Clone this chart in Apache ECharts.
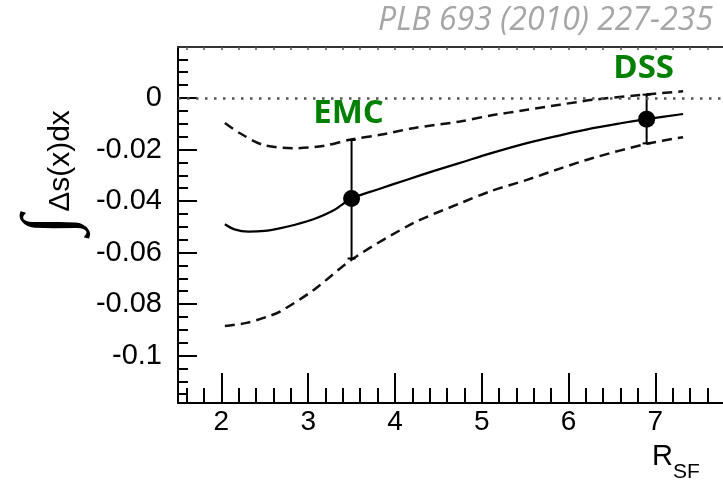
<!DOCTYPE html>
<html>
<head>
<meta charset="utf-8">
<script src="https://cdn.jsdelivr.net/npm/echarts@6/dist/echarts.min.js"></script>
<style>
  html, body { margin: 0; padding: 0; background: #ffffff; }
  #chart { width: 723px; height: 483px; }
</style>
</head>
<body>
<div id="chart"></div>
<script>
// Central curve of the integrated strange-quark helicity vs. R_SF
const rCentral = [2.04, 2.15, 2.31, 2.5, 2.67, 2.85, 3.06, 3.3, 3.5, 3.8, 4.13, 4.45, 4.75, 5.1, 5.52, 5.9, 6.28, 6.6, 6.9, 7.32];
const sCentral = [-0.049, -0.051, -0.0519, -0.0516, -0.0506, -0.0492, -0.0471, -0.0435, -0.039, -0.0355, -0.0318, -0.0283, -0.0252, -0.0215, -0.0175, -0.0145, -0.0117, -0.0098, -0.0082, -0.0062];

// Upper edge of the uncertainty band
const rUpper = [2.04, 2.21, 2.48, 2.83, 3.17, 3.51, 3.83, 4.21, 4.75, 5.1, 5.52, 5.9, 6.28, 6.74, 7.32];
const sUpper = [-0.0097, -0.0136, -0.0182, -0.0195, -0.0186, -0.016, -0.0143, -0.0117, -0.0091, -0.0068, -0.0046, -0.0026, -0.0007, 0.0009, 0.0026];

// Lower edge of the uncertainty band
const rLower = [2.04, 2.29, 2.52, 2.67, 3.06, 3.52, 4.21, 4.75, 5.1, 5.52, 5.9, 6.28, 6.9, 7.32];
const sLower = [-0.0885, -0.0873, -0.085, -0.083, -0.0746, -0.0623, -0.0486, -0.0409, -0.0362, -0.0318, -0.0274, -0.0233, -0.0178, -0.0152];

// Extracted values with their error ranges
const pointNames = ['EMC', 'DSS'];
const pointR = [3.5, 6.9];
const pointS = [-0.039, -0.0082];
const pointLow = [-0.0623, -0.0176];
const pointHigh = [-0.0163, 0.0013];

// Axis ticks
const xTickLabels = [2, 3, 4, 5, 6, 7];
const yTickLabels = [-0.1, -0.08, -0.06, -0.04, -0.02, 0];
const X_MIN = 1.5, X_MAX = 7.78;
const Y_MIN = -0.1184, Y_MAX = 0.0198;

const xMinorTicks = [];
for (let k = 8; k <= 38; k++) xMinorTicks.push(+(k * 0.2).toFixed(2));
const yMinorTicks = [];
for (let k = -23; k <= 3; k++) yMinorTicks.push(+(k * 0.005).toFixed(3));

const FONT = 'Liberation Sans';
const chart = echarts.init(document.getElementById('chart'), null, { renderer: 'canvas' });

const baseX = { type: 'value', min: X_MIN, max: X_MAX, splitLine: { show: false } };
const baseY = { type: 'value', min: Y_MIN, max: Y_MAX, splitLine: { show: false } };

chart.setOption({
  animation: false,
  backgroundColor: '#ffffff',
  grid: { left: 178, top: 47, right: 0, bottom: 80, containLabel: false },
  xAxis: [
    Object.assign({}, baseX, {
      position: 'bottom',
      axisLine: { show: true, onZero: false, lineStyle: { color: '#000', width: 2 } },
      axisTick: { show: true, inside: true, length: 30, customValues: xTickLabels, lineStyle: { color: '#000', width: 2 } },
      axisLabel: { show: true, customValues: xTickLabels, fontSize: 28, fontFamily: FONT, color: '#000', margin: 5 }
    }),
    Object.assign({}, baseX, {
      position: 'bottom',
      axisLine: { show: false, onZero: false },
      axisTick: { show: true, inside: true, length: 15, customValues: xMinorTicks, lineStyle: { color: '#000', width: 2 } },
      axisLabel: { show: false }
    }),
    Object.assign({}, baseX, {
      position: 'top',
      axisLine: { show: true, onZero: false, lineStyle: { color: '#333', width: 2 } },
      axisTick: { show: true, inside: true, length: 3, customValues: xMinorTicks, lineStyle: { color: '#555', width: 1.5 } },
      axisLabel: { show: false }
    })
  ],
  yAxis: [
    Object.assign({}, baseY, {
      position: 'left',
      axisLine: { show: true, onZero: false, lineStyle: { color: '#000', width: 2 } },
      axisTick: { show: true, inside: true, length: 19, customValues: yTickLabels, lineStyle: { color: '#000', width: 2 } },
      axisLabel: {
        show: true, customValues: yTickLabels, fontSize: 29, fontFamily: FONT, color: '#000', margin: 16,
        formatter: v => String(+(+v).toFixed(2))
      }
    }),
    Object.assign({}, baseY, {
      position: 'left',
      axisLine: { show: false, onZero: false },
      axisTick: { show: true, inside: true, length: 10, customValues: yMinorTicks, lineStyle: { color: '#000', width: 2 } },
      axisLabel: { show: false }
    })
  ],
  series: [
    {
      name: 'central', type: 'line', xAxisIndex: 0, yAxisIndex: 0,
      data: rCentral.map((r, i) => [r, sCentral[i]]),
      smooth: 0.3, showSymbol: false, symbol: 'none',
      lineStyle: { color: '#000', width: 2.2 },
      markLine: {
        silent: true, symbol: 'none', label: { show: false },
        lineStyle: { color: '#555', width: 2.5, type: [2.5, 6.5] },
        data: [{ yAxis: 0 }]
      },
      z: 3
    },
    {
      name: 'upper', type: 'line', xAxisIndex: 0, yAxisIndex: 0,
      data: rUpper.map((r, i) => [r, sUpper[i]]),
      smooth: 0.3, showSymbol: false, symbol: 'none',
      lineStyle: { color: '#111', width: 2.5, type: [10, 6] },
      z: 3
    },
    {
      name: 'lower', type: 'line', xAxisIndex: 0, yAxisIndex: 0,
      data: rLower.map((r, i) => [r, sLower[i]]),
      smooth: 0.3, showSymbol: false, symbol: 'none',
      lineStyle: { color: '#111', width: 2.5, type: [10, 6] },
      z: 3
    },
    {
      name: 'errors', type: 'custom', xAxisIndex: 0, yAxisIndex: 0,
      data: pointR.map((r, i) => [r, pointLow[i], pointHigh[i]]),
      renderItem: function (params, api) {
        const top = api.coord([api.value(0), api.value(2)]);
        const bot = api.coord([api.value(0), api.value(1)]);
        const cap = 4;
        const stroke = { stroke: '#000', lineWidth: 2 };
        return {
          type: 'group',
          children: [
            { type: 'line', shape: { x1: top[0], y1: top[1], x2: bot[0], y2: bot[1] }, style: stroke },
            { type: 'line', shape: { x1: top[0] - cap, y1: top[1], x2: top[0] + cap, y2: top[1] }, style: stroke },
            { type: 'line', shape: { x1: bot[0] - cap, y1: bot[1], x2: bot[0] + cap, y2: bot[1] }, style: stroke },
            {
              type: 'text', x: top[0] - 3, y: top[1] - 10,
              style: {
                text: pointNames[params.dataIndex], fill: '#008000',
                font: 'bold 33px "Open Sans"', textAlign: 'center', textVerticalAlign: 'bottom'
              }
            }
          ]
        };
      },
      z: 4
    },
    {
      name: 'points', type: 'scatter', xAxisIndex: 0, yAxisIndex: 0,
      data: pointR.map((r, i) => [r, pointS[i]]),
      symbol: 'circle', symbolSize: 17,
      itemStyle: { color: '#000', opacity: 1 },
      z: 5
    }
  ],
  graphic: [
    {
      type: 'text', x: 713, y: 21,
      style: {
        text: 'PLB 693 (2010) 227-235', fill: '#a6a6a6',
        font: 'italic 32px "Open Sans"', textAlign: 'right', textVerticalAlign: 'middle'
      }
    },
    {
      type: 'text', x: 61, y: 161, rotation: Math.PI / 2,
      style: {
        text: 'Δs(x)dx', fill: '#000',
        font: '30px "Liberation Sans"', textAlign: 'center', textVerticalAlign: 'middle'
      }
    },
    {
      type: 'text', x: 52, y: 225, rotation: Math.PI / 2,
      style: {
        text: '∫', fill: '#000',
        font: '72px "Liberation Serif"', textAlign: 'center', textVerticalAlign: 'middle'
      }
    },
    {
      type: 'text', x: 652, y: 457,
      style: { text: 'R', fill: '#000', font: '29px "Liberation Sans"', textAlign: 'left', textVerticalAlign: 'middle' }
    },
    {
      type: 'text', x: 673, y: 472,
      style: { text: 'SF', fill: '#000', font: '21px "Liberation Sans"', textAlign: 'left', textVerticalAlign: 'middle' }
    }
  ]
});
</script>
</body>
</html>
